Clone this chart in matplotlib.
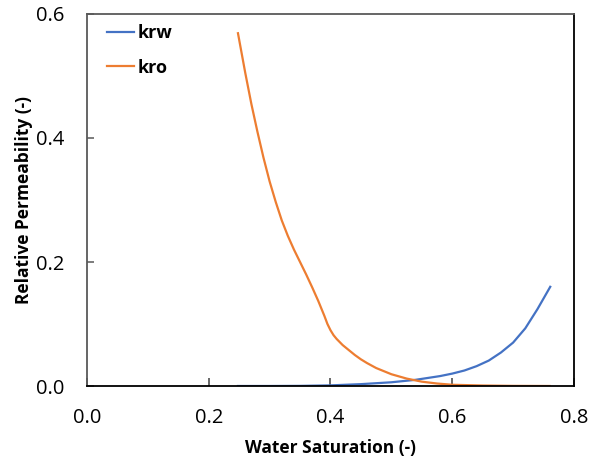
import matplotlib
matplotlib.use("Agg")
import matplotlib.pyplot as plt

sw_kro = [0.248, 0.26, 0.27, 0.28, 0.29, 0.30, 0.31, 0.32, 0.33, 0.34, 0.35, 0.36,
          0.37, 0.38, 0.39, 0.395, 0.40, 0.405, 0.41, 0.42, 0.43, 0.44, 0.45, 0.46, 0.475,
          0.50, 0.525, 0.55, 0.575, 0.60, 0.65, 0.70, 0.76]
kro = [0.569, 0.505, 0.455, 0.410, 0.368, 0.330, 0.297, 0.267, 0.242, 0.220, 0.200, 0.180,
       0.159, 0.137, 0.113, 0.100, 0.090, 0.082, 0.076, 0.066, 0.058, 0.050, 0.043, 0.037, 0.029,
       0.019, 0.012, 0.007, 0.004, 0.002, 0.0008, 0.0002, 0.0]

sw_krw = [0.248, 0.30, 0.35, 0.40, 0.45, 0.50, 0.52, 0.54, 0.56, 0.58, 0.60, 0.62,
          0.64, 0.66, 0.68, 0.70, 0.72, 0.74, 0.761]
krw = [0.0, 0.0, 0.0002, 0.001, 0.003, 0.006, 0.008, 0.010, 0.013, 0.016, 0.020, 0.025,
       0.032, 0.041, 0.054, 0.070, 0.093, 0.124, 0.160]

xticks = [0.0, 0.2, 0.4, 0.6, 0.8]
yticks = [0.0, 0.2, 0.4, 0.6]

plt.rcParams['font.family'] = ['Open Sans', 'DejaVu Sans']

fig = plt.figure(figsize=(5.89, 4.62), dpi=100)
ax = fig.add_axes([0.1477, 0.1645, 0.8268, 0.8052])

ax.plot(sw_krw, krw, color='#4472C4', lw=1.6, label='krw')
ax.plot(sw_kro, kro, color='#ED7D31', lw=1.6, label='kro')

ax.set_xlim(0, 0.8)
ax.set_ylim(0, 0.6)
ax.set_xticks(xticks)
ax.set_yticks(yticks)
ax.set_xticklabels([f"{v:.1f}" for v in xticks], fontsize=14.5)
ax.set_yticklabels([f"{v:.1f}" for v in yticks], fontsize=14.5)
ax.tick_params(axis='x', direction='in', length=6, width=1.1, color='#404040', pad=16)
ax.tick_params(axis='y', direction='in', length=5, width=1.1, color='#595959', pad=16)

for s in ['left', 'top']:
    ax.spines[s].set_color('#595959')
for s in ['bottom', 'right']:
    ax.spines[s].set_color('#000000')
for s in ax.spines.values():
    s.set_linewidth(1.3)

ax.set_xlabel('Water Saturation (-)', fontsize=12.5, fontweight='bold')
ax.set_ylabel('Relative Permeability (-)', fontsize=12.5, fontweight='bold')
ax.xaxis.set_label_coords(0.5, -0.142)
ax.yaxis.set_label_coords(-0.111, 0.5)

leg = ax.legend(loc='upper left', frameon=False, prop={'weight': 'bold', 'size': 13},
                handlelength=1.5, handletextpad=0.2, labelspacing=0.9, borderpad=0,
                bbox_to_anchor=(0.0225, 0.9965))

fig.savefig('out.png', dpi=100)
